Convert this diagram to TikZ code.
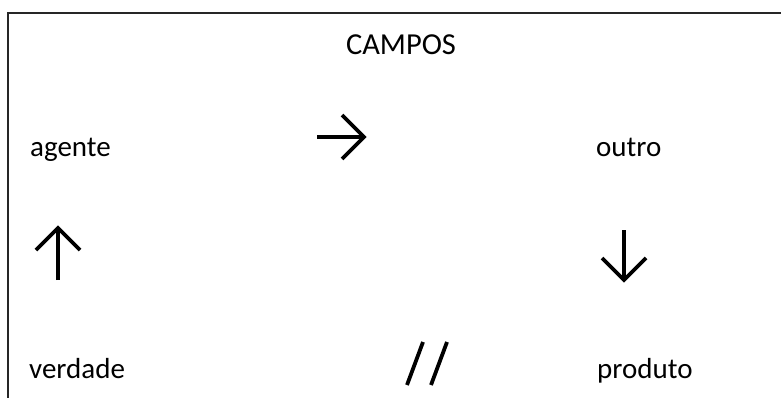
\documentclass[tikz,border=0pt]{standalone}
\usepackage{fontspec}
\setmainfont{Carlito}
\begin{document}
\begin{tikzpicture}[x=1pt,y=-1pt,
  lbl/.style={anchor=base west,inner sep=0pt,font=\fontsize{29}{35}\selectfont},
  ttl/.style={anchor=base,inner sep=0pt,font=\fontsize{30.5}{36}\selectfont},
  frame/.style={line width=2pt,draw=black!85},
  sym/.style={line width=3.8pt}]
\useasboundingbox (0,0) rectangle (781,398);
\draw[frame] (8,398) -- (8,13) -- (781,13);
\node[ttl] (campos) at (401,55) {CAMPOS};
\node[lbl] (agente) at (30,157) {agente};
\node[lbl] (outro) at (596,157) {outro};
\node[lbl] (verdade) at (29,378) {verdade};
\node[lbl] (produto) at (597,378) {produto};
% right arrow
\coordinate (r0) at (317,137); \coordinate (r1) at (364,137);
\draw[sym] (r0) -- (r1);
\draw[sym] (342,115) -- (r1) -- (342,159);
% up arrow
\coordinate (u0) at (58,280); \coordinate (u1) at (58,228);
\draw[sym] (u0) -- (u1);
\draw[sym] (36,250) -- (u1) -- (80,250);
% down arrow
\coordinate (d0) at (624,230); \coordinate (d1) at (624,280);
\draw[sym] (d0) -- (d1);
\draw[sym] (602,258) -- (d1) -- (646,258);
% double slash
\draw[sym] (423,342) -- (407,385);
\draw[sym] (447,342) -- (431,385);
\end{tikzpicture}
\end{document}
